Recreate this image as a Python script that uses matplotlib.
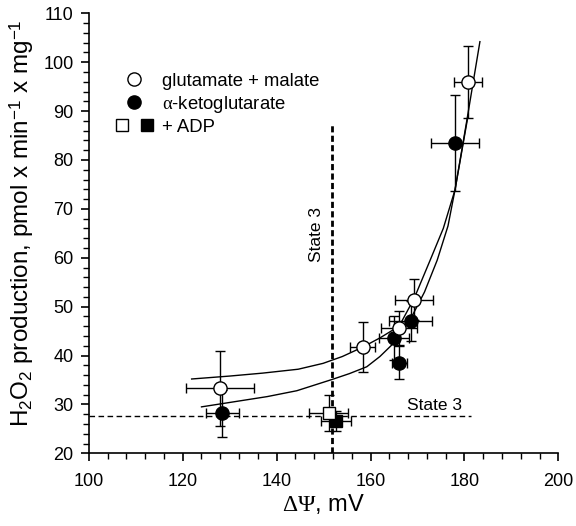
import matplotlib
matplotlib.use("Agg")
import matplotlib.pyplot as plt
from matplotlib.lines import Line2D
from matplotlib.legend_handler import HandlerTuple
from matplotlib.ticker import MultipleLocator

plt.rcParams['font.family'] = ['Liberation Sans', 'DejaVu Sans']
plt.rcParams['mathtext.fontset'] = 'custom'
plt.rcParams['mathtext.rm'] = 'Liberation Serif'
plt.rcParams['mathtext.it'] = 'Liberation Serif:italic'
plt.rcParams['mathtext.sf'] = 'Liberation Sans'

# ---- data ----
gm_x = [127.9, 158.3, 166.1, 169.3, 180.7]
gm_y = [33.3, 41.7, 45.7, 51.4, 96.0]
gm_xerr = [7.3, 2.6, 3.9, 4.0, 2.95]
gm_yerr = [7.7, 5.1, 3.5, 4.2, 7.4]

ak_x = [128.4, 165.0, 166.1, 168.6, 178.0]
ak_y = [28.2, 43.6, 38.5, 47.1, 83.4]
ak_xerr = [3.5, 3.2, 1.6, 4.6, 5.2]
ak_yerr = [4.8, 4.5, 3.4, 4.1, 9.8]

adp_gm_x = [151.1]
adp_gm_y = [28.2]
adp_gm_xerr = [4.1]
adp_gm_yerr = [3.7]

adp_ak_x = [152.6]
adp_ak_y = [26.6]
adp_ak_xerr = [3.2]
adp_ak_yerr = [2.0]

curve_gm_x = [121.9, 130, 137, 144.6, 149.9, 154, 158.3, 162, 166.1, 169.3, 172.7, 175.5, 178, 180.8]
curve_gm_y = [35.2, 35.8, 36.4, 37.2, 38.4, 39.8, 41.7, 43.6, 46.0, 51.7, 59.5, 66.0, 73.9, 89.2]

curve_ak_x = [124.0, 132, 138, 144.3, 151.8, 155.5, 159.2, 162, 164.9, 168.6, 171.5, 174.2, 176.5, 178, 180.5, 183.3]
curve_ak_y = [29.5, 30.7, 31.6, 32.8, 35.1, 36.3, 37.7, 39.8, 42.5, 47.6, 53.0, 59.5, 66.5, 73.9, 88.0, 104.2]

state3_potential = 151.7   # mV, vertical line
state3_potential_top = 87.1
state3_h2o2 = 27.6         # horizontal line
state3_h2o2_right = 181.4

# ---- figure ----
fig = plt.figure(figsize=(5.76, 5.26), dpi=100)
ax = fig.add_axes([0.1542, 0.1382, 0.8151, 0.8365])

ax.plot(curve_gm_x, curve_gm_y, color='black', lw=1.0, zorder=2)
ax.plot(curve_ak_x, curve_ak_y, color='black', lw=1.0, zorder=2)

ax.plot([state3_potential, state3_potential], [20, state3_potential_top],
        color='black', lw=2.0, dashes=(2.2, 1.2), zorder=1)
ax.plot([100, state3_h2o2_right], [state3_h2o2, state3_h2o2],
        color='black', lw=1.0, dashes=(4, 2.5), zorder=1)

ek = dict(ecolor='black', elinewidth=1.0, capsize=3.5, capthick=1.0, ls='none')
ms = 9.5
ax.errorbar(ak_x, ak_y, xerr=ak_xerr, yerr=ak_yerr, marker='o', ms=ms,
            mfc='black', mec='black', zorder=3, **ek)
ax.errorbar(gm_x, gm_y, xerr=gm_xerr, yerr=gm_yerr, marker='o', ms=ms,
            mfc='white', mec='black', mew=1.0, zorder=4, **ek)
ax.errorbar(adp_ak_x, adp_ak_y, xerr=adp_ak_xerr, yerr=adp_ak_yerr, marker='s', ms=9,
            mfc='black', mec='black', zorder=3, **ek)
ax.errorbar(adp_gm_x, adp_gm_y, xerr=adp_gm_xerr, yerr=adp_gm_yerr, marker='s', ms=9,
            mfc='white', mec='black', mew=1.0, zorder=4, **ek)

ax.text(148.5, 59.1, 'State 3', rotation=90, ha='center', va='bottom', fontsize=12.5)
ax.text(167.7, 28.85, 'State 3', ha='left', va='baseline', fontsize=12.5)

ax.set_xlim(100, 200)
ax.set_ylim(20, 110)
ax.xaxis.set_major_locator(MultipleLocator(20))
ax.xaxis.set_minor_locator(MultipleLocator(4))
ax.yaxis.set_major_locator(MultipleLocator(10))
ax.yaxis.set_minor_locator(MultipleLocator(2))
for s in ['top', 'right']:
    ax.spines[s].set_visible(False)
for s in ['left', 'bottom']:
    ax.spines[s].set_linewidth(1.2)
ax.tick_params(which='major', length=6, width=1.2, labelsize=13, direction='out')
ax.tick_params(which='minor', length=4, width=1.0, direction='out')
ax.tick_params(axis='x', pad=8)
ax.tick_params(axis='y', pad=5)

ax.set_xlabel(r'$\Delta\Psi$, mV', fontsize=17)
ax.xaxis.set_label_coords(0.5, -0.088)
ax.set_ylabel(r'H$_\mathsf{2}$O$_\mathsf{2}$ production, pmol x min$^\mathsf{-1}$ x mg$^\mathsf{-1}$',
              fontsize=17.5)
ax.yaxis.set_label_coords(-0.1125, 0.522)

h_gm = Line2D([], [], ls='none', marker='o', ms=ms, mfc='white', mec='black', mew=1.0)
h_ak = Line2D([], [], ls='none', marker='o', ms=ms, mfc='black', mec='black')
h_sq1 = Line2D([], [], ls='none', marker='s', ms=9, mfc='white', mec='black', mew=1.0)
h_sq2 = Line2D([], [], ls='none', marker='s', ms=9, mfc='black', mec='black')
ax.legend([h_gm, h_ak, (h_sq1, h_sq2)],
          ['glutamate + malate', r'$\mathrm{\alpha}$-ketoglutarate', '+ ADP'],
          handler_map={tuple: HandlerTuple(ndivide=None, pad=0)},
          loc='upper left', bbox_to_anchor=(0.044, 0.865), frameon=False,
          fontsize=13.3, handlelength=2.7, handletextpad=0.15, labelspacing=0.22,
          borderpad=0, borderaxespad=0)

fig.savefig('out.png', dpi=100)
